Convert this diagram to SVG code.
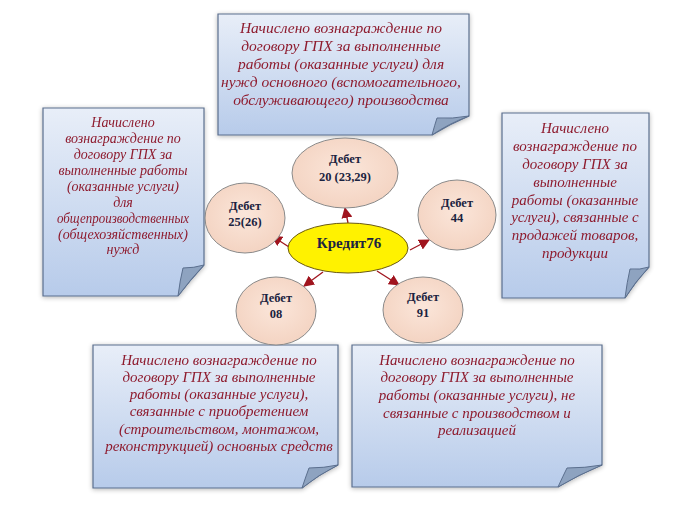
<svg xmlns="http://www.w3.org/2000/svg" width="699" height="507" viewBox="0 0 699 507">
<defs>
<linearGradient id="noteFill" x1="0" y1="0" x2="0" y2="1">
<stop offset="0" stop-color="#E8EEF8"/>
<stop offset="1" stop-color="#B7CBEA"/>
</linearGradient>
<radialGradient id="ellFill" cx="0.5" cy="0.45" r="0.6">
<stop offset="0" stop-color="#FBE6DA"/>
<stop offset="1" stop-color="#F3D2C0"/>
</radialGradient>
<filter id="shadow" x="-10%" y="-10%" width="120%" height="120%">
<feGaussianBlur in="SourceAlpha" stdDeviation="2.5"/>
<feOffset dx="0" dy="1" result="b"/>
<feComponentTransfer><feFuncA type="linear" slope="0.3"/></feComponentTransfer>
<feMerge><feMergeNode/><feMergeNode in="SourceGraphic"/></feMerge>
</filter>
<marker id="arr" viewBox="0 0 10 10" refX="9" refY="5" markerWidth="11" markerHeight="11" markerUnits="userSpaceOnUse" orient="auto">
<path d="M0,0 L10,5 L0,10 Z" fill="#A0141E"/>
</marker>
</defs>
<style>
.note{fill:url(#noteFill);stroke:#5B6F8E;stroke-width:1.2}
.fold{fill:#8EA3C0;stroke:#5B6F8E;stroke-width:1}
.nt{font-family:"Liberation Serif","Times New Roman",serif;font-style:italic;font-size:15px;fill:#8E1B2E;text-anchor:middle}
.nt-top{font-size:15.5px}
.nt-left{font-size:14px}
.ell{fill:url(#ellFill);stroke:#8A8A8A;stroke-width:1}
.et{font-family:"Liberation Serif","Times New Roman",serif;font-weight:bold;font-size:12.5px;fill:#1B2340;text-anchor:middle}
.ct{font-size:15px}
.conn{stroke:#A0141E;stroke-width:1.3;fill:none;marker-end:url(#arr)}
</style>
<rect width="699" height="507" fill="#FFFFFF"/>

<g id="note-top" filter="url(#shadow)">
<path class="note" d="M218,14 H469 V116 Q450,124 432,135 H218 Z"/>
<path class="fold" d="M432,135 Q435,124 437,118 Q452,119 469,116 Q448,124 432,135 Z"/>
<text class="nt nt-top" x="341" y="33">Начислено вознаграждение по</text>
<text class="nt nt-top" x="341" y="51">договору ГПХ за выполненные</text>
<text class="nt nt-top" x="341" y="69">работы (оказанные услуги) для</text>
<text class="nt nt-top" x="341" y="87">нужд основного (вспомогательного,</text>
<text class="nt nt-top" x="341" y="105">обслуживающего) производства</text>
</g>

<g id="note-left" filter="url(#shadow)">
<path class="note" d="M43,108 H204 V265 Q190,280 178,296 H43 Z"/>
<path class="fold" d="M178,296 Q180,280 183,268 Q194,268 204,265 Q190,280 178,296 Z"/>
<text class="nt nt-left" x="123" y="127">Начислено</text>
<text class="nt nt-left" x="123" y="143">вознаграждение по</text>
<text class="nt nt-left" x="123" y="159">договору ГПХ за</text>
<text class="nt nt-left" x="123" y="175">выполненные работы</text>
<text class="nt nt-left" x="123" y="191">(оказанные услуги)</text>
<text class="nt nt-left" x="123" y="207">для</text>
<text class="nt nt-left" x="123" y="223" textLength="132" lengthAdjust="spacingAndGlyphs">общепроизводственных</text>
<text class="nt nt-left" x="123" y="238.5">(общехозяйственных)</text>
<text class="nt nt-left" x="123" y="254">нужд</text>
</g>

<g id="note-right" filter="url(#shadow)">
<path class="note" d="M502,113 H649 V267 Q635,282 625,298 H502 Z"/>
<path class="fold" d="M625,298 Q627,282 630,269 Q640,270 649,267 Q635,282 625,298 Z"/>
<text class="nt" x="575" y="133">Начислено</text>
<text class="nt" x="575" y="151">вознаграждение по</text>
<text class="nt" x="575" y="169">договору ГПХ за</text>
<text class="nt" x="575" y="187">выполненные</text>
<text class="nt" x="575" y="205">работы (оказанные</text>
<text class="nt" x="575" y="222">услуги), связанные с</text>
<text class="nt" x="575" y="240">продажей товаров,</text>
<text class="nt" x="575" y="258">продукции</text>
</g>

<g id="note-bottom-left" filter="url(#shadow)">
<path class="note" d="M93,345 H338 V465 Q318,475 302,488 H93 Z"/>
<path class="fold" d="M302,488 Q306,476 309,468 Q324,468 338,465 Q318,475 302,488 Z"/>
<text class="nt" x="219" y="365">Начислено вознаграждение по</text>
<text class="nt" x="219" y="382">договору ГПХ за выполненные</text>
<text class="nt" x="219" y="399">работы (оказанные услуги),</text>
<text class="nt" x="219" y="416">связанные с приобретением</text>
<text class="nt" x="219" y="434">(строительством, монтажом,</text>
<text class="nt" x="219" y="451">реконструкцией) основных средств</text>
</g>

<g id="note-bottom-right" filter="url(#shadow)">
<path class="note" d="M352,345 H602 V465 Q578,475 558,487 H352 Z"/>
<path class="fold" d="M558,487 Q563,476 567,468 Q585,468 602,465 Q578,475 558,487 Z"/>
<text class="nt" x="477" y="365">Начислено вознаграждение по</text>
<text class="nt" x="477" y="382">договору ГПХ за выполненные</text>
<text class="nt" x="477" y="400">работы (оказанные услуги), не</text>
<text class="nt" x="477" y="418">связанные с производством и</text>
<text class="nt" x="477" y="435">реализацией</text>
</g>

<g id="connectors">
<line class="conn" x1="348" y1="223" x2="345" y2="208"/>
<line class="conn" x1="289" y1="247" x2="272" y2="236"/>
<line class="conn" x1="410" y1="250" x2="429" y2="240"/>
<line class="conn" x1="323" y1="272" x2="304" y2="286"/>
<line class="conn" x1="377" y1="271" x2="399" y2="285"/>
</g>

<g id="debit-20">
<ellipse class="ell" cx="345" cy="173" rx="53" ry="35"/>
<text class="et" x="345" y="163">Дебет</text>
<text class="et" x="345" y="181">20 (23,29)</text>
</g>
<g id="debit-25">
<ellipse class="ell" cx="245" cy="218" rx="40" ry="35"/>
<text class="et" x="245" y="210">Дебет</text>
<text class="et" x="245" y="226">25(26)</text>
</g>
<g id="debit-44">
<ellipse class="ell" cx="457" cy="215" rx="39" ry="35"/>
<text class="et" x="457" y="207">Дебет</text>
<text class="et" x="457" y="222">44</text>
</g>
<g id="debit-08">
<ellipse class="ell" cx="276" cy="311" rx="40" ry="34"/>
<text class="et" x="276" y="302">Дебет</text>
<text class="et" x="276" y="318">08</text>
</g>
<g id="debit-91">
<ellipse class="ell" cx="423" cy="310" rx="40" ry="33"/>
<text class="et" x="423" y="301">Дебет</text>
<text class="et" x="423" y="317">91</text>
</g>
<g id="credit-76">
<ellipse cx="348" cy="248" rx="60" ry="25" fill="#FFF200" stroke="#6B5A10" stroke-width="1"/>
<text class="et ct" x="349" y="248">Кредит76</text>
</g>
</svg>
